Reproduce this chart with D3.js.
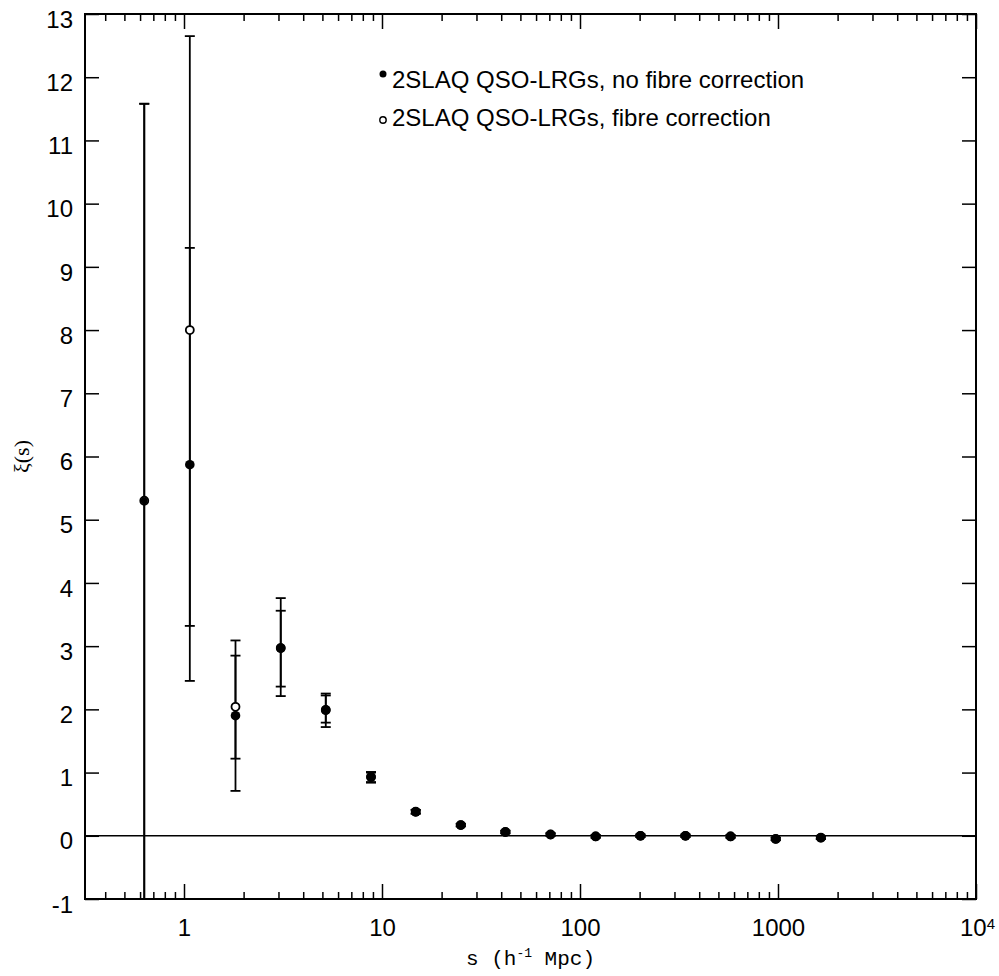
<!DOCTYPE html>
<html>
<head>
<meta charset="utf-8">
<script src="https://cdn.jsdelivr.net/npm/d3@7"></script>
<style>
  body { margin: 0; background: #fff; }
  svg { display: block; }
  .tick line { stroke: #000; stroke-width: 1.5; }
  .tick text { font-family: "Liberation Sans", Arial, sans-serif; font-size: 24px; fill: #000; }
</style>
</head>
<body>
<div id="chart"></div>
<script>
// separation bins, s (h^-1 Mpc)
const sep = [0.63, 1.07, 1.82, 3.08, 5.2, 8.8, 14.8, 25, 42, 71, 120, 202, 341, 576, 974, 1646];

// 2SLAQ QSO-LRGs, no fibre correction
const xiNoFibre   = [5.3, 5.87, 1.9, 2.97, 1.99, 0.93, 0.38, 0.17, 0.06, 0.02, -0.01, 0.0, 0.0, -0.01, -0.05, -0.03];
const loNoFibre   = [-1.5, 3.32, 1.22, 2.36, 1.79, 0.85, 0.35, 0.15, 0.04, 0.0, -0.03, -0.02, -0.02, -0.03, -0.07, -0.05];
const hiNoFibre   = [11.58, 9.3, 2.85, 3.56, 2.22, 1.0, 0.41, 0.19, 0.08, 0.04, 0.01, 0.02, 0.02, 0.01, -0.03, -0.01];

// 2SLAQ QSO-LRGs, fibre correction
const xiFibre     = [5.3, 8.0, 2.04, 2.97, 1.99, 0.93, 0.38, 0.17, 0.06, 0.02, -0.01, 0.0, 0.0, -0.01, -0.05, -0.03];
const loFibre     = [-1.5, 2.45, 0.71, 2.21, 1.72, 0.84, 0.35, 0.15, 0.04, 0.0, -0.03, -0.02, -0.02, -0.03, -0.07, -0.05];
const hiFibre     = [11.58, 12.65, 3.09, 3.76, 2.25, 1.01, 0.41, 0.19, 0.08, 0.04, 0.01, 0.02, 0.02, 0.01, -0.03, -0.01];

const majorX = [1, 10, 100, 1000, 10000];
const yTicks = d3.range(-1, 14);
const legendLabels = ["2SLAQ QSO-LRGs, no fibre correction", "2SLAQ QSO-LRGs, fibre correction"];

const width = 999, height = 976;
const margin = {top: 14, right: 23, bottom: 77, left: 85};

const svg = d3.select("#chart").append("svg")
    .attr("width", width)
    .attr("height", height);

const x = d3.scaleLog()
    .domain([Math.pow(10, -0.5), 1e4])
    .range([margin.left, width - margin.right]);
const y = d3.scaleLinear()
    .domain([-1, 13])
    .range([height - margin.bottom, margin.top]);

// minor ticks 2..9 of each decade inside the domain
const minorX = [];
for (let e = -1; e < 4; e++) {
  for (let m = 2; m <= 9; m++) {
    const v = m * Math.pow(10, e);
    if (v > x.domain()[0] && v < x.domain()[1]) minorX.push(v);
  }
}

const x0 = x.range()[0], x1 = x.range()[1];
const y0 = y.range()[0], y1 = y.range()[1];

svg.append("defs").append("clipPath").attr("id", "plot")
  .append("rect")
    .attr("x", x0).attr("y", y1)
    .attr("width", x1 - x0).attr("height", y0 - y1);

// bottom axis
const bottomMajor = svg.append("g")
    .attr("transform", `translate(0,${y0})`)
    .call(d3.axisBottom(x).tickValues(majorX).tickSize(-15).tickPadding(20)
      .tickFormat(d => d === 10000 ? "" : d3.format("d")(d)));
bottomMajor.select(".domain").remove();
bottomMajor.selectAll(".tick").filter(d => d === 10000).select("text")
    .attr("x", 1)
    .call(t => {
      t.append("tspan").text("10");
      t.append("tspan").attr("dy", "-7").attr("font-size", "15px").text("4");
    });

svg.append("g")
    .attr("transform", `translate(0,${y0})`)
    .call(d3.axisBottom(x).tickValues(minorX).tickSize(-7).tickFormat(""))
    .select(".domain").remove();

// top axis
svg.append("g")
    .attr("transform", `translate(0,${y1})`)
    .call(d3.axisTop(x).tickValues(majorX).tickSize(-15).tickFormat(""))
    .select(".domain").remove();
svg.append("g")
    .attr("transform", `translate(0,${y1})`)
    .call(d3.axisTop(x).tickValues(minorX).tickSize(-7).tickFormat(""))
    .select(".domain").remove();

// left axis
const left = svg.append("g")
    .attr("transform", `translate(${x0},0)`)
    .call(d3.axisLeft(y).tickValues(yTicks).tickSize(-14).tickPadding(12).tickFormat(d3.format("d")));
left.select(".domain").remove();
left.selectAll("text").attr("y", 5.5).text(d => d < 0 ? "-" + Math.abs(d) : d);

// right axis
svg.append("g")
    .attr("transform", `translate(${x1},0)`)
    .call(d3.axisRight(y).tickValues(yTicks).tickSize(-14).tickFormat(""))
    .select(".domain").remove();

// frame
svg.append("rect")
    .attr("x", x0).attr("y", y1)
    .attr("width", x1 - x0).attr("height", y0 - y1)
    .attr("fill", "none")
    .attr("stroke", "#000")
    .attr("stroke-width", 2);

// zero line
svg.append("line")
    .attr("x1", x0).attr("x2", x1)
    .attr("y1", y(0)).attr("y2", y(0))
    .attr("stroke", "#000")
    .attr("stroke-width", 1.6);

const plot = svg.append("g").attr("clip-path", "url(#plot)");

function errorBars(lo, hi) {
  const g = plot.append("g").attr("stroke", "#000").attr("stroke-width", 1.8);
  const rows = sep.map((s, i) => ({s, lo: lo[i], hi: hi[i]}));
  g.selectAll(".bar").data(rows).enter().append("line")
      .attr("x1", d => x(d.s)).attr("x2", d => x(d.s))
      .attr("y1", d => y(d.lo)).attr("y2", d => y(d.hi));
  g.selectAll(".capLo").data(rows).enter().append("line")
      .attr("x1", d => x(d.s) - 5).attr("x2", d => x(d.s) + 5)
      .attr("y1", d => y(d.lo)).attr("y2", d => y(d.lo));
  g.selectAll(".capHi").data(rows).enter().append("line")
      .attr("x1", d => x(d.s) - 5).attr("x2", d => x(d.s) + 5)
      .attr("y1", d => y(d.hi)).attr("y2", d => y(d.hi));
}

errorBars(loFibre, hiFibre);
errorBars(loNoFibre, hiNoFibre);

// open points: fibre correction
plot.append("g").selectAll("circle")
    .data(sep.map((s, i) => ({s, v: xiFibre[i]})))
    .enter().append("circle")
    .attr("cx", d => x(d.s)).attr("cy", d => y(d.v))
    .attr("r", 4)
    .attr("fill", "#fff")
    .attr("stroke", "#000")
    .attr("stroke-width", 1.8);

// filled points: no fibre correction
plot.append("g").selectAll("circle")
    .data(sep.map((s, i) => ({s, v: xiNoFibre[i]})))
    .enter().append("circle")
    .attr("cx", d => x(d.s)).attr("cy", d => y(d.v))
    .attr("r", d => d.s === 0.63 ? 3.5 : 4.8)
    .attr("fill", "#000");

// legend
const legend = svg.append("g")
    .style("font-family", "\"Liberation Sans\", Arial, sans-serif")
    .style("font-size", "24px");
legend.selectAll("text").data(legendLabels).enter().append("text")
    .attr("x", 392).attr("y", (d, i) => 80 + i * 38)
    .attr("dy", "0.35em")
    .text(d => d);
legend.append("circle").attr("cx", 383).attr("cy", 74).attr("r", 3.5).attr("fill", "#000");
legend.append("circle").attr("cx", 383).attr("cy", 120).attr("r", 3.2)
    .attr("fill", "#fff").attr("stroke", "#000").attr("stroke-width", 1.4);

// axis titles
const xl = svg.append("text")
    .attr("x", (x0 + x1) / 2).attr("y", 965)
    .attr("text-anchor", "middle")
    .style("font-family", "\"Liberation Mono\", \"Courier New\", monospace")
    .style("font-size", "21px");
xl.append("tspan").text("s (h");
xl.append("tspan").attr("dy", "-8").style("font-size", "13px").text("-1");
xl.append("tspan").attr("dy", "8").text(" Mpc)");

svg.append("text")
    .attr("transform", `translate(29,${(y0 + y1) / 2}) rotate(-90)`)
    .attr("text-anchor", "middle")
    .style("font-family", "\"Liberation Serif\", \"Times New Roman\", serif")
    .style("font-size", "22px")
    .text("ξ(s)");
</script>
</body>
</html>
